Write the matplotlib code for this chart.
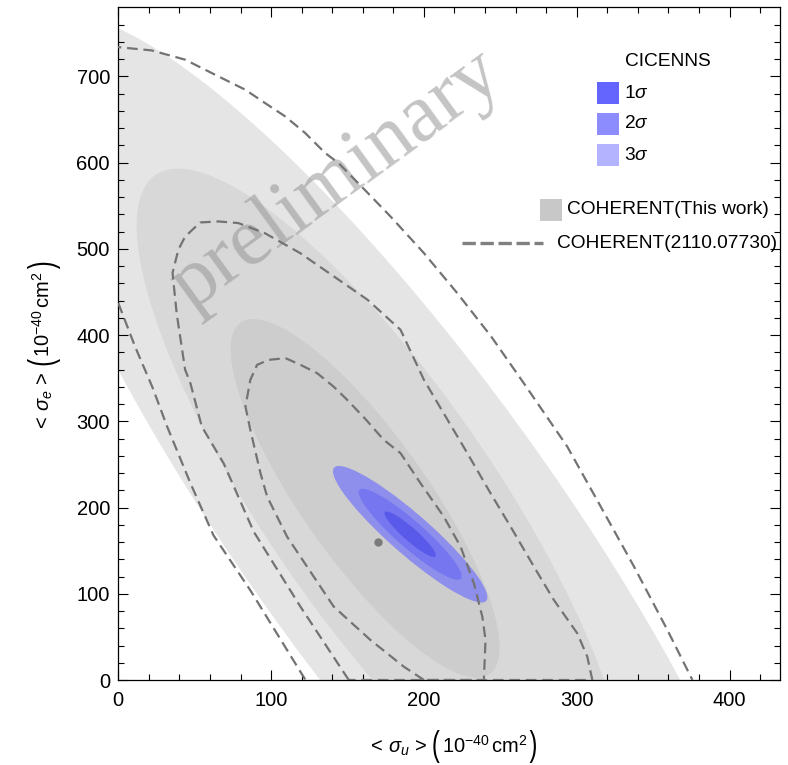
import numpy as np
import matplotlib
matplotlib.use("Agg")
import matplotlib.pyplot as plt
from matplotlib.patches import Ellipse, Rectangle, PathPatch
from matplotlib.lines import Line2D
from matplotlib.textpath import TextPath
from matplotlib.font_manager import FontProperties
from matplotlib.transforms import Affine2D, IdentityTransform

plt.rcParams['font.family'] = ['Liberation Sans', 'DejaVu Sans']
plt.rcParams['mathtext.fontset'] = 'custom'
plt.rcParams['mathtext.rm'] = 'Liberation Sans'
plt.rcParams['mathtext.it'] = 'Liberation Sans:italic'
plt.rcParams['mathtext.bf'] = 'Liberation Sans:bold'

# ---------------- data ----------------
# COHERENT (this work) gray confidence regions: outer (3sigma) -> inner (1sigma)
gray_cx = [185.0, 172.0, 161.5]
gray_cy = [176.0, 205.0, 210.5]
gray_sx = [252.0, 160.0, 88.0]
gray_sy = [596.0, 388.0, 208.0]
gray_rho = [-0.872, -0.83, -0.83]
gray_colors = ['#e5e5e5', '#d8d8d8', '#cdcdcd']

# CICENNS blue regions (3sigma, 2sigma, 1sigma)
blue_center = (191.0, 169.0)
blue_sx = 16.85
blue_sy = 26.4
blue_rho = -0.922
blue_scale = [3.0, 2.0, 1.0]
blue_colors = ['#8e8eec', '#7676f0', '#5a5aea']
blue_legend_colors = ['#6464ff', '#8c8cff', '#b3b3ff']
blue_labels = [r'1$\sigma$', r'2$\sigma$', r'3$\sigma$']

# COHERENT(2110.07730) dashed contours
d_outer_top_x = [-5, 0, 21.8, 43.7, 65.5, 83, 96, 109.2, 122.3, 135.4, 144.1, 162, 178.1,
                 200, 221.8, 244, 265.4, 293.8, 315.7, 337.5, 359.3, 375.7]
d_outer_top_y = [734, 733.8, 730, 719.3, 699.9, 684.5, 669, 653.5, 634.2, 611, 599.4, 567,
                 537.5, 495, 448.6, 398.3, 344, 270.6, 201, 131.4, 58, 0]
d_outer_low_x = [0, 11.1, 22.3, 32.1, 47.2, 62.2, 86.4, 122.5]
d_outer_low_y = [437, 386, 339.6, 293.2, 228.2, 168, 104, 0]
d_mid_x = [150.8, 119.2, 88.6, 69, 54.6, 47.2, 43.7, 38.2, 35.5, 39.3, 43.7, 53.5, 65.5,
           78.6, 96, 119, 141, 163, 184.7, 200, 213, 228.4, 243.6, 256.7, 272, 285, 300.4,
           306.9, 310.2, 150.8]
d_mid_y = [0, 85, 172, 251, 294, 344, 360, 425, 472, 499, 514, 530.5, 531.7,
           529.8, 518, 495, 468, 441, 406, 348, 309, 263, 216.5, 177.8, 131.4, 92.8, 54,
           27, 0, 0]
d_in_x = [200, 186.8, 165, 141, 110.5, 97.4, 93, 86.4, 83.2, 86.4, 90.8, 98.4, 109.4,
          119.2, 130.1, 141, 149.8, 162, 173.7, 184.7, 197.8, 213, 224, 232.7, 238.2,
          240.3, 239.2, 200]
d_in_y = [0, 15.5, 46.4, 85, 166, 212.6, 240, 290, 317, 348, 365.4, 371.2, 373.2,
          365.4, 355.8, 340, 324.8, 302, 278.4, 263, 228, 189.4, 154.6, 112, 73.4,
          46.4, 0, 0]

best_fit = (170.0, 160.0)

x_major = [0, 100, 200, 300, 400]
y_major = [0, 100, 200, 300, 400, 500, 600, 700]
xlim = (0, 433)
ylim = (0, 780)

# ---------------- figure ----------------
W, H = 788, 765
fig = plt.figure(figsize=(W / 100, H / 100), dpi=100)
ax = fig.add_axes([118.3 / W, 1 - 680 / H, (780 - 118.3) / W, (680 - 7.3) / H])
ax.set_xlim(*xlim)
ax.set_ylim(*ylim)


def ellipse(cx, cy, sx, sy, rho, k=1.0, **kw):
    S = np.array([[sx * sx, rho * sx * sy], [rho * sx * sy, sy * sy]])
    w, v = np.linalg.eigh(S)
    ang = np.degrees(np.arctan2(v[1, 1], v[0, 1]))
    return Ellipse((cx, cy), 2 * k * np.sqrt(w[1]), 2 * k * np.sqrt(w[0]), angle=ang, **kw)


for i in range(3):
    ax.add_patch(ellipse(gray_cx[i], gray_cy[i], gray_sx[i], gray_sy[i], gray_rho[i],
                         facecolor=gray_colors[i], edgecolor='none', zorder=1 + i))

for k, c in zip(blue_scale, blue_colors):
    ax.add_patch(ellipse(blue_center[0], blue_center[1], blue_sx, blue_sy, blue_rho, k=k,
                         facecolor=c, edgecolor='none', zorder=5))

# watermark
ax.text((337 - 118.3) / 1.5275, (680 - 180) / 0.8619, 'preliminary', fontsize=60,
        family=['Liberation Serif', 'DejaVu Serif'], color='#949494', alpha=0.55,
        rotation=36, ha='center', va='center', zorder=6)

dkw = dict(color='#737373', lw=1.6, dashes=(4.8, 2.6), zorder=7, solid_capstyle='butt')
ax.plot(d_outer_top_x, d_outer_top_y, **dkw)
ax.plot(d_outer_low_x, d_outer_low_y, **dkw)
ax.plot(d_mid_x, d_mid_y, **dkw)
ax.plot(d_in_x, d_in_y, **dkw)

ax.plot([best_fit[0]], [best_fit[1]], 'o', color='#7a7a7a', ms=6, mec='none', zorder=8)

# axes styling
ax.set_xticks(x_major)
ax.set_yticks(y_major)
ax.set_xticks(np.arange(0, xlim[1], 20), minor=True)
ax.set_yticks(np.arange(0, ylim[1], 20), minor=True)
ax.tick_params(which='both', direction='in', top=True, right=True, color='black', width=0.8)
ax.tick_params(which='major', length=7, labelsize=14.5, pad=6)
ax.tick_params(which='minor', length=4.3)
ax.tick_params(axis='x', which='major', pad=8)
for s in ax.spines.values():
    s.set_linewidth(0.9)
    s.set_color('black')

# ---------------- axis labels built from pieces (tall thin parentheses) ----------------
fig.canvas.draw()
renderer = fig.canvas.get_renderer()
paren_prop = FontProperties(family='Liberation Sans')


def paren(ch, pos, base, vertical, below=10.0, above=23.0, hscale=1.25):
    tp = TextPath((0, 0), ch, size=19, prop=paren_prop)
    ext = tp.get_extents()
    a = (below + above) / (ext.y1 - ext.y0)
    tr = (Affine2D().translate(-ext.x0, -ext.y0)
          .scale(hscale, a).translate(1.0, -below))
    adv = hscale * (ext.x1 - ext.x0) + 2.0
    if not vertical:
        tr = tr.translate(pos, H - base)
    else:
        tr = tr.rotate_deg(90).translate(base, H - pos)
    fig.patches.append(PathPatch(tr.transform_path(tp), transform=IdentityTransform(),
                                 facecolor='black', edgecolor='none', lw=0))
    return adv


def lay_label(pieces, start, base, vertical):
    pos = start
    for s, gap in pieces:
        if s in '()':
            if not vertical:
                pos += gap
                pos += paren(s, pos, base, False)
            else:
                pos -= gap
                pos -= paren(s, pos, base, True)
            continue
        if not vertical:
            pos += gap
            t = fig.text(pos / W, 1 - base / H, s, fontsize=14.5, ha='left', va='baseline')
            pos += t.get_window_extent(renderer).width
        else:
            pos -= gap
            t = fig.text(base / W, 1 - pos / H, s, fontsize=14.5,
                         ha='left', va='baseline', rotation=90, rotation_mode='anchor')
            pos -= t.get_window_extent(renderer).height


x_pieces = [(r'$<\,\sigma_u\,>$', 0), ('(', 5), (r'$10^{-40}\,\mathrm{cm}^2$', 1), (')', 1)]
y_pieces = [(r'$<\,\sigma_e\,>$', 0), ('(', 5), (r'$10^{-40}\,\mathrm{cm}^2$', 1), (')', 1)]
lay_label(x_pieces, 366.7, 753, False)
lay_label(y_pieces, 432, 50, True)

# ---------------- legend (figure pixel coordinates) ----------------
def fx(px):
    return px / W


def fy(py):
    return 1 - py / H


fs_leg = 13.8
fig.text(fx(667.5), fy(61), 'CICENNS', fontsize=fs_leg, ha='center', va='center')
for i, (c, lab) in enumerate(zip(blue_legend_colors, blue_labels)):
    yc = 93 + i * 31
    fig.patches.append(Rectangle((fx(597), fy(yc + 11)), 22 / W, 22 / H, transform=fig.transFigure,
                                 facecolor=c, edgecolor='none'))
    fig.text(fx(624), fy(yc), lab, fontsize=fs_leg, ha='left', va='center')

fig.patches.append(Rectangle((fx(540), fy(221)), 22 / W, 22 / H, transform=fig.transFigure,
                             facecolor='#c8c8c8', edgecolor='none'))
fig.text(fx(567), fy(210), 'COHERENT(This work)', fontsize=fs_leg, ha='left', va='center')
fig.lines.append(Line2D([fx(462), fx(543)], [fy(243), fy(243)], transform=fig.transFigure,
                        color='#808080', lw=2.4, dashes=(4.0, 1.4)))
fig.text(fx(557.5), fy(243), 'COHERENT(2110.07730)', fontsize=fs_leg, ha='left', va='center')

fig.savefig('out.png', dpi=100)
